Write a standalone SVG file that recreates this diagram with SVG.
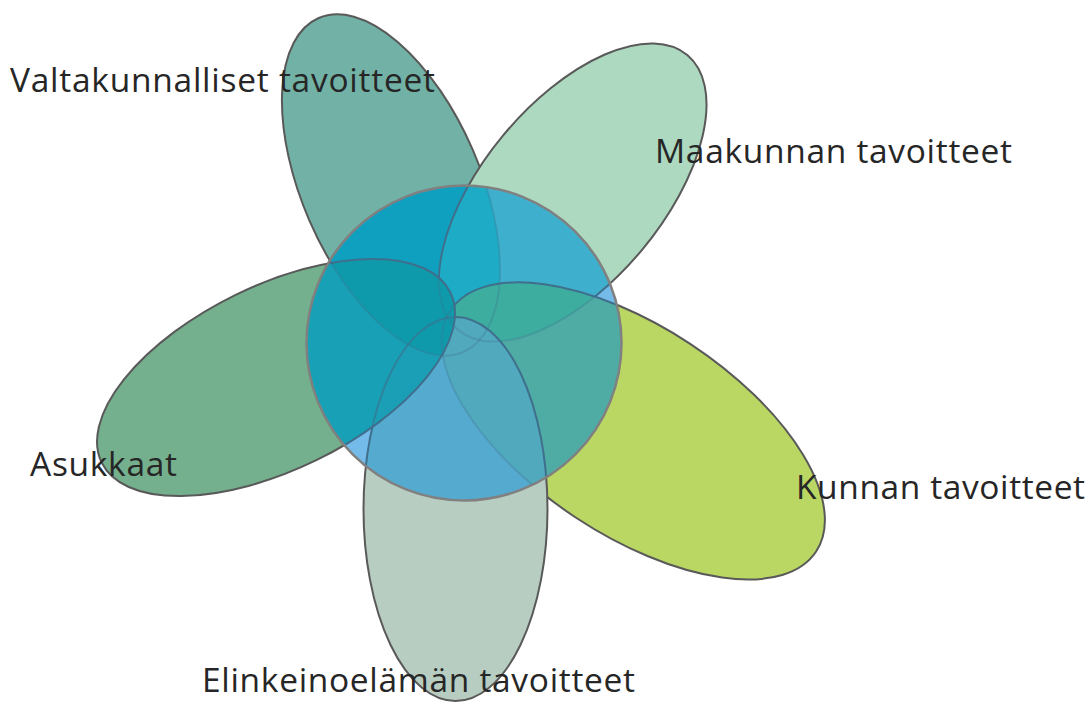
<svg xmlns="http://www.w3.org/2000/svg" xmlns:xlink="http://www.w3.org/1999/xlink" width="1091" height="702" viewBox="0 0 1091 702">
  <style>
    .petal { stroke: #595959; stroke-width: 2; }
    .inner-line { fill: none; stroke: #3f6f8c; stroke-width: 2; }
    .ring { fill: none; stroke: #808080; stroke-width: 2.5; }
    .label { font-family: "Open Sans", "Noto Sans", "Liberation Sans", sans-serif; font-size: 33.5px; fill: #262626; }
  </style>
  <defs>
    <!-- petal geometry: rx is the long axis before rotation -->
    <ellipse id="pV" cx="391" cy="185" rx="182" ry="89" transform="rotate(66.6 391 185)"/>
    <ellipse id="pM" cx="572.7" cy="192.5" rx="179" ry="90" transform="rotate(-50.2 572.7 192.5)"/>
    <ellipse id="pK" cx="633.3" cy="430.9" rx="219" ry="104" transform="rotate(33.4 633.3 430.9)"/>
    <ellipse id="pB" cx="455.5" cy="509" rx="92" ry="192"/>
    <ellipse id="pA" cx="276" cy="377.5" rx="194" ry="92" transform="rotate(-26 276 377.5)"/>
    <circle id="hub" cx="464" cy="343" r="157.5"/>

    <clipPath id="cpHub"><use href="#hub"/></clipPath>
    <clipPath id="cpV"><use href="#pV"/></clipPath>
    <clipPath id="cpM"><use href="#pM"/></clipPath>
    <clipPath id="cpK"><use href="#pK"/></clipPath>
    <clipPath id="cpB"><use href="#pB"/></clipPath>

    <!-- outlines fade where a later petal lies over them -->
    <mask id="mkV" maskUnits="userSpaceOnUse" x="0" y="0" width="1091" height="702">
      <rect width="1091" height="702" fill="#fff"/>
      <use href="#pM" fill="#484848"/><use href="#pK" fill="#484848"/>
      <use href="#pB" fill="#484848"/><use href="#pA" fill="#484848"/>
    </mask>
    <mask id="mkM" maskUnits="userSpaceOnUse" x="0" y="0" width="1091" height="702">
      <rect width="1091" height="702" fill="#fff"/>
      <use href="#pK" fill="#484848"/><use href="#pB" fill="#484848"/><use href="#pA" fill="#484848"/>
    </mask>
    <mask id="mkK" maskUnits="userSpaceOnUse" x="0" y="0" width="1091" height="702">
      <rect width="1091" height="702" fill="#fff"/>
      <use href="#pB" fill="#484848"/><use href="#pA" fill="#484848"/>
    </mask>
    <mask id="mkB" maskUnits="userSpaceOnUse" x="0" y="0" width="1091" height="702">
      <rect width="1091" height="702" fill="#fff"/>
      <use href="#pA" fill="#9a9a9a"/>
    </mask>
  </defs>

  <rect width="1091" height="702" fill="#ffffff"/>

  <g id="valtakunnalliset">
    <use href="#pV" class="petal" fill="#72b2a6"/>
  </g>
  <g id="maakunnan">
    <use href="#pM" class="petal" fill="#acd9bf"/>
  </g>
  <g id="kunnan">
    <use href="#pK" class="petal" fill="#bad763"/>
  </g>
  <g id="elinkeinoelama">
    <use href="#pB" class="petal" fill="#b8cdc2"/>
  </g>
  <g id="asukkaat">
    <use href="#pA" class="petal" fill="#74b08d"/>
  </g>

  <!-- central circle and the overlaps inside it -->
  <g id="keskus">
    <g clip-path="url(#cpHub)">
      <use href="#hub" fill="#74bbe9"/>
      <use href="#pV" fill="#0fa0c0"/>
      <use href="#pM" fill="#3eb0cd"/>
      <use href="#pK" fill="#4eaca5"/>
      <use href="#pB" fill="#55aacf"/>
      <use href="#pA" fill="#17a0b6"/>
      <g clip-path="url(#cpV)"><use href="#pM" fill="#1eabc5"/></g>
      <g clip-path="url(#cpM)"><use href="#pK" fill="#3cad9f"/></g>
      <g clip-path="url(#cpK)"><use href="#pB" fill="#50a9bd"/></g>
      <g clip-path="url(#cpB)"><use href="#pA" fill="#1a9fb6"/></g>
      <g clip-path="url(#cpV)"><use href="#pA" fill="#0f9aab"/></g>

      <use href="#pV" class="inner-line" mask="url(#mkV)"/>
      <use href="#pM" class="inner-line" mask="url(#mkM)"/>
      <use href="#pK" class="inner-line" mask="url(#mkK)"/>
      <use href="#pB" class="inner-line" mask="url(#mkB)"/>
      <use href="#pA" class="inner-line"/>
    </g>
    <use href="#hub" class="ring"/>
  </g>

  <g id="labels">
    <text class="label" x="10" y="91.7" textLength="425" lengthAdjust="spacing">Valtakunnalliset tavoitteet</text>
    <text class="label" x="655" y="163.3" textLength="357" lengthAdjust="spacing">Maakunnan tavoitteet</text>
    <text class="label" x="30" y="476" textLength="147" lengthAdjust="spacing">Asukkaat</text>
    <text class="label" x="796" y="498.5" textLength="289" lengthAdjust="spacing">Kunnan tavoitteet</text>
    <text class="label" x="202" y="691.7" textLength="433" lengthAdjust="spacing">Elinkeinoelämän tavoitteet</text>
  </g>
</svg>
